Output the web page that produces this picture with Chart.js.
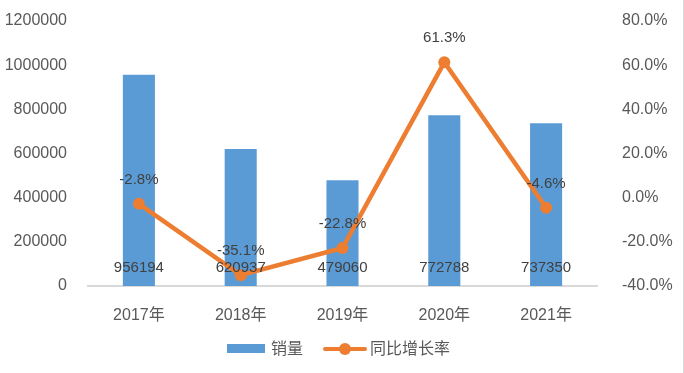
<!DOCTYPE html>
<html><head><meta charset="utf-8">
<script src="https://cdn.jsdelivr.net/npm/chart.js@4"></script>
<style>
html,body{margin:0;padding:0;background:#fff;}
#wrap{position:relative;width:684px;height:373px;}
#edge{position:absolute;left:683px;top:0;width:1px;height:373px;background:#d9d9d9;}
#legend{position:absolute;left:0;top:337px;width:684px;height:24px;font-family:"Liberation Sans","Noto Sans CJK SC",sans-serif;font-size:16px;color:#595959;}
.lg{position:absolute;top:0;line-height:24px;white-space:nowrap;}
</style></head>
<body>
<div id="wrap">
<canvas id="c" width="684" height="373"></canvas>
<div id="edge"></div>
<div id="legend">
  <div class="lg" style="left:227px;"><span style="display:inline-block;width:38px;height:9px;background:#5B9BD5;vertical-align:middle;margin-right:6px;position:relative;top:-1px"></span>销量</div>
  <div class="lg" style="left:323px;"><span style="display:inline-block;width:44px;height:4px;background:#ED7D31;vertical-align:middle;margin-right:3px;position:relative;top:-1px;border-radius:2px"><span style="position:absolute;left:16px;top:-4px;width:12px;height:12px;border-radius:6px;background:#ED7D31"></span></span>同比增长率</div>
</div>
</div>
<script>
const categories = ['2017年','2018年','2019年','2020年','2021年'];
const sales = [956194, 620937, 479060, 772788, 737350];
const growth = [-2.8, -35.1, -22.8, 61.3, -4.6];

const FONT = '"Liberation Sans","Noto Sans CJK SC",sans-serif';

const labelPlugin = {
  id: 'labels',
  afterDatasetsDraw(chart) {
    const ctx = chart.ctx;
    ctx.save();
    ctx.font = '15px ' + FONT;
    ctx.fillStyle = '#404040';
    ctx.textAlign = 'center';
    ctx.textBaseline = 'middle';
    const bars = chart.getDatasetMeta(1).data;
    bars.forEach((b, i) => {
      ctx.fillText(String(sales[i]), b.x, b.base - 18);
    });
    const pts = chart.getDatasetMeta(0).data;
    pts.forEach((p, i) => {
      ctx.fillText(growth[i].toFixed(1) + '%', p.x, p.y - 24);
    });
    ctx.restore();
  }
};

new Chart(document.getElementById('c'), {
  data: {
    labels: categories,
    datasets: [
      {
        type: 'line', label: '同比增长率', data: growth, yAxisID: 'y1',
        borderColor: '#ED7D31', backgroundColor: '#ED7D31', borderWidth: 4.5,
        pointRadius: 6, pointBackgroundColor: '#ED7D31', pointBorderWidth: 0,
        tension: 0, order: 0
      },
      {
        type: 'bar', label: '销量', data: sales, yAxisID: 'y',
        backgroundColor: '#5B9BD5', barPercentage: 0.315, categoryPercentage: 1, order: 1
      }
    ]
  },
  options: {
    responsive: false, animation: false,
    layout: { padding: { top: 21, left: 0, right: 0, bottom: 0 } },
    plugins: { legend: { display: false }, tooltip: { enabled: false } },
    scales: {
      x: {
        grid: { display: false },
        border: { color: '#d9d9d9', width: 2 },
        ticks: { color: '#595959', font: { family: FONT, size: 16 }, padding: 12 },
        afterFit(s) { s.height = 87; }
      },
      y: {
        position: 'left', min: 0, max: 1200000,
        grid: { display: false }, border: { display: false },
        ticks: { stepSize: 200000, color: '#595959', font: { family: FONT, size: 16 }, padding: 13,
          callback: v => String(v) },
        afterFit(s) { s.width = 88; s.paddingTop = 0; s.paddingBottom = 0; }
      },
      y1: {
        position: 'right', min: -40, max: 80,
        grid: { display: false }, border: { display: false },
        ticks: { stepSize: 20, color: '#595959', font: { family: FONT, size: 16 }, padding: 17,
          crossAlign: 'near',
          callback: v => v.toFixed(1) + '%' },
        afterFit(s) { s.width = 87; s.paddingTop = 0; s.paddingBottom = 0; }
      }
    }
  },
  plugins: [labelPlugin]
});
</script>
</body></html>
